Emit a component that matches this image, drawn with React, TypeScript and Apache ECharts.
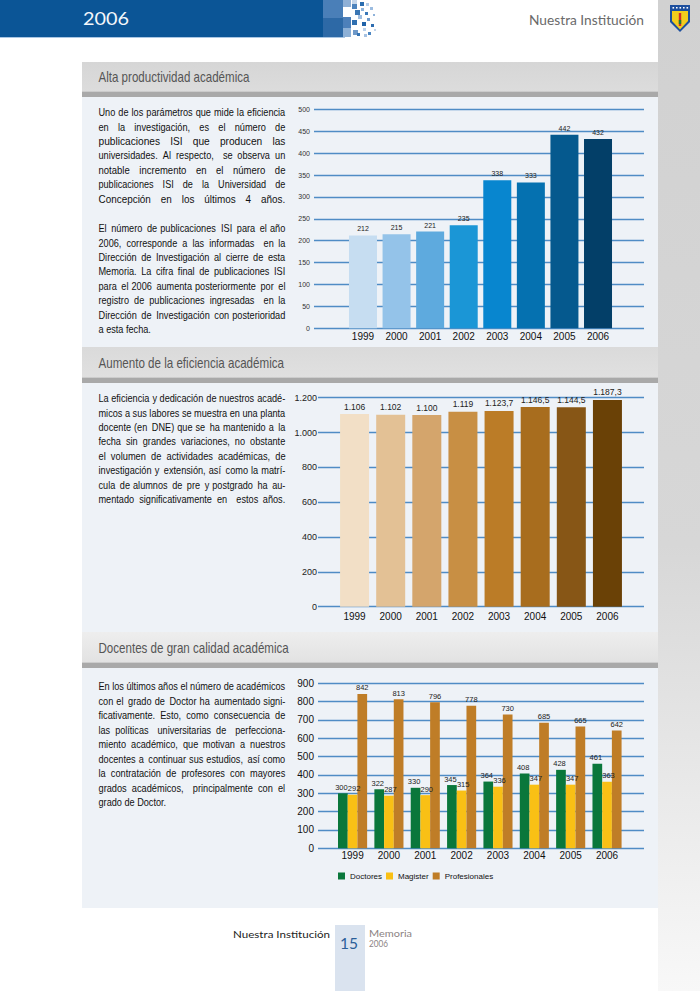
import React, { useEffect, useRef } from "react";
import * as echarts from "echarts";

// ---------- data ----------
const years = ["1999", "2000", "2001", "2002", "2003", "2004", "2005", "2006"];
const isiPublications = [212, 215, 221, 235, 338, 333, 442, 432];
const plantaDocente = [1106, 1102, 1100, 1119, 1123.7, 1146.5, 1144.5, 1187.3];
const doctores = [300, 322, 330, 345, 364, 408, 428, 461];
const magister = [292, 287, 290, 315, 336, 347, 347, 363];
const profesionales = [842, 813, 796, 778, 730, 685, 665, 642];
const seriesNames = ["Doctores", "Magister", "Profesionales"];

// ---------- palettes ----------
const bluePalette = ["#c6ddf1", "#94c3e9", "#5eaade", "#1b96d6", "#0886cf", "#0571b0", "#05598e", "#033f68"];
const brownPalette = ["#f2dfc6", "#e3c195", "#d4a56c", "#c88f44", "#bb7c27", "#a86d1e", "#875616", "#6a4106"];
const gradeColors = ["#0a773b", "#f9c015", "#bf7d27"];

// ---------- texts ----------
const headings = ["Alta productividad académica", "Aumento de la eficiencia académica", "Docentes de gran calidad académica"];
const para1a = [
  "Uno de los parámetros que mide la eficiencia",
  "en la investigación, es el número de",
  "publicaciones ISI que producen las",
  "universidades. Al respecto, se observa un",
  "notable incremento en el número de",
  "publicaciones ISI de la Universidad de",
  "Concepción en los últimos 4 años.",
];
const para1b = [
  "El número de publicaciones ISI para el año",
  "2006, corresponde a las informadas en la",
  "Dirección de Investigación al cierre de esta",
  "Memoria. La cifra final de publicaciones ISI",
  "para el 2006 aumenta posteriormente por el",
  "registro de publicaciones ingresadas en la",
  "Dirección de Investigación con posterioridad",
  "a esta fecha.",
];
const para2 = [
  "La eficiencia y dedicación de nuestros acadé-",
  "micos a sus labores se muestra en una planta",
  "docente (en DNE) que se ha mantenido a la",
  "fecha sin grandes variaciones, no obstante",
  "el volumen de actividades académicas, de",
  "investigación y extensión, así como la matrí-",
  "cula de alumnos de pre y postgrado ha au-",
  "mentado significativamente en estos años.",
];
const para3 = [
  "En los últimos años el número de académicos",
  "con el grado de Doctor ha aumentado signi-",
  "ficativamente. Esto, como consecuencia de",
  "las políticas universitarias de perfecciona-",
  "miento académico, que motivan a nuestros",
  "docentes a continuar sus estudios, así como",
  "la contratación de profesores con mayores",
  "grados académicos, principalmente con el",
  "grado de Doctor.",
];

function fmtEs(v: number): string {
  const parts = String(v).split(".");
  const int = parts[0].replace(/\B(?=(\d{3})+(?!\d))/g, ".");
  return parts[1] ? int + "," + parts[1] : int;
}

let measureCtx: CanvasRenderingContext2D | null = null;
function measure(text: string, font: string): number {
  if (!measureCtx) measureCtx = document.createElement("canvas").getContext("2d");
  if (!measureCtx) return text.length * 6;
  measureCtx.font = font;
  return measureCtx.measureText(text).width;
}

const SANS = '"Liberation Sans", Arial, sans-serif';
const HUMAN = 'Lato, "Open Sans", sans-serif';
const PARA_SIZE = 11.8;
const PARA_FONT = `normal ${PARA_SIZE}px ${SANS}`;
const COL_W = 187;

function textEl(text: string, x: number, y: number, scale: number, size: number, family: string, fill: string, align = "left", weight = "normal") {
  const font = `${weight} ${size}px ${family}`;
  return {
    type: "text",
    x,
    y,
    scaleX: scale,
    silent: true,
    style: {
      text, font, fontSize: size, fontFamily: family, fontWeight: weight, fill,
      align, textAlign: align, verticalAlign: "middle", textVerticalAlign: "middle",
    },
  };
}

function fitText(text: string, x: number, y: number, target: number, size: number, family: string, fill: string, align = "left", weight = "normal") {
  const w = measure(text, `${weight} ${size}px ${family}`);
  return textEl(text, x, y, w > 0 ? target / w : 1, size, family, fill, align, weight);
}

const SPACE_CHARS = [" ", "\u2006", "\u2009", "\u2005", "\u2004", "\u2002", "\u2007", "\u2003"];

function justify(text: string, s0: number) {
  const words = text.split(" ");
  const n = words.length - 1;
  if (n <= 0) return { text, scale: COL_W / measure(text, PARA_FONT) };
  const wordsW = words.reduce((a, w) => a + measure(w, PARA_FONT), 0);
  const needed = (COL_W / s0 - wordsW) / n;
  const cands = SPACE_CHARS.map((c) => ({ c, w: measure(c, PARA_FONT) }));
  let cum = 0;
  let out = words[0];
  for (let i = 1; i <= n; i++) {
    const goal = needed * i;
    let best = cands[0];
    let bestErr = Infinity;
    cands.forEach((cd) => {
      const err = Math.abs(cum + cd.w - goal);
      if (err < bestErr) { bestErr = err; best = cd; }
    });
    cum += best.w;
    out += best.c + words[i];
  }
  return { text: out, scale: COL_W / measure(out, PARA_FONT) };
}

type Para = { lines: string[]; y0: number; step: number; lastShort: boolean };

function buildParagraphs(paras: Para[]) {
  let s0 = Infinity;
  paras.forEach((p) => p.lines.forEach((t, i) => {
    const isShort = p.lastShort && i === p.lines.length - 1;
    if (!isShort) s0 = Math.min(s0, COL_W / measure(t, PARA_FONT));
  }));
  const els: any[] = [];
  paras.forEach((p) => p.lines.forEach((t, i) => {
    const y = p.y0 + i * p.step;
    const isShort = p.lastShort && i === p.lines.length - 1;
    if (isShort) {
      els.push(textEl(t, 98.5, y, s0, PARA_SIZE, SANS, "#111"));
    } else {
      const j = justify(t, s0);
      els.push(textEl(j.text, 98.5, y, j.scale, PARA_SIZE, SANS, "#111"));
    }
  }));
  return els;
}

function buildGraphics() {
  const g: any[] = [];
  // right column
  g.push({
    type: "rect", shape: { x: 658, y: 0, width: 42, height: 991 }, silent: true,
    style: { fill: new echarts.graphic.LinearGradient(0, 0, 0, 1, [
      { offset: 0, color: "#d1d1d1" }, { offset: 0.55, color: "#d7d7d7" }, { offset: 1, color: "#f8f8f8" }]) },
  });
  // header band
  g.push({ type: "rect", shape: { x: 0, y: 0, width: 323, height: 37 }, style: { fill: "#0b5596" }, silent: true });
  g.push({ type: "line", shape: { x1: 0, y1: 37.5, x2: 345, y2: 37.5 }, style: { stroke: "#a9c6e3", lineWidth: 1 }, silent: true });
  const pattern: [number, number, number, number, string][] = [
    [323, 0, 20, 18, "#4a7fb8"], [323, 18, 20, 19, "#2d69a6"],
    [343, 0, 8, 7, "#8fb0d6"], [343, 17, 8, 11, "#4d80ba"], [343, 28, 8, 9, "#8db0d6"],
    [352, 0, 5, 4, "#c5d6ea"], [352, 4, 5, 5, "#4e84bd"], [355, 10, 5, 5, "#3a76b4"],
    [352, 20, 5, 5, "#2f6fb0"], [353, 30, 5, 5, "#6f99c8"], [358, 15, 4, 4, "#9fbde0"],
    [360, 2, 4, 4, "#2a6db0"], [361, 8, 3, 3, "#8fb4db"], [362, 22, 4, 4, "#1f62a8"],
    [363, 28, 3, 3, "#b9d0ea"], [365, 12, 3, 3, "#3a78b8"], [366, 3, 3, 3, "#b5cde8"],
    [367, 18, 3, 3, "#6e9acb"], [368, 32, 3, 3, "#4c86c2"], [370, 7, 3, 3, "#9cbce0"],
    [371, 24, 3, 3, "#2e6db0"], [373, 14, 2, 2, "#8eb2da"], [374, 29, 2, 2, "#c0d4eb"],
    [357, 33, 3, 3, "#3775b4"], [364, 34, 3, 3, "#a6c2e2"],
  ];
  pattern.forEach(([x, y, w, h, c]) => g.push({ type: "rect", shape: { x, y, width: w, height: h }, style: { fill: c }, silent: true }));
  g.push(fitText("2006", 83, 19, 46, 16.5, HUMAN, "#f4f7fb"));
  g.push(fitText("Nuestra Institución", 644, 20, 115, 13.5, HUMAN, "#6a6a6a", "right"));
  // logo
  g.push({ type: "polygon", shape: { points: [[670, 5], [690, 5], [690, 22], [680, 32], [670, 22]] }, style: { fill: "#1d4f9e" }, silent: true });
  g.push({ type: "polygon", shape: { points: [[672, 11], [688, 11], [688, 21], [680, 29.5], [672, 21]] }, style: { fill: "#f4cd1e" }, silent: true });
  [672.5, 676, 679.5, 683, 686.5].forEach((x) => g.push({ type: "rect", shape: { x, y: 7, width: 1.6, height: 1.6 }, style: { fill: "#ffffff" }, silent: true }));
  g.push({ type: "rect", shape: { x: 678.8, y: 13, width: 2.4, height: 13 }, style: { fill: "#d22b2b" }, silent: true });
  g.push({ type: "rect", shape: { x: 678.8, y: 20, width: 2.4, height: 4 }, style: { fill: "#1f7a3a" }, silent: true });

  // sections
  const sections = [
    { band: 62, panelTop: 97, panelBottom: 347, bandColors: ["#d6d6d6", "#dcdcdc"] },
    { band: 347, panelTop: 383, panelBottom: 632, bandColors: ["#dadada", "#e0e0e0"] },
    { band: 632, panelTop: 668, panelBottom: 908, bandColors: ["#eeeeee", "#e2e2e2"] },
  ];
  const headingWidths = [151, 185.5, 190.5];
  sections.forEach((s, i) => {
    const darkTop = s.panelTop - 5.5;
    g.push({
      type: "rect", shape: { x: 82, y: s.band, width: 576, height: darkTop - s.band }, silent: true,
      style: { fill: new echarts.graphic.LinearGradient(0, 0, 0, 1, [{ offset: 0, color: s.bandColors[0] }, { offset: 1, color: s.bandColors[1] }]) },
    });
    g.push({ type: "rect", shape: { x: 82, y: darkTop, width: 576, height: 5.5 }, style: { fill: "#a9a9a9" }, silent: true });
    g.push({ type: "rect", shape: { x: 82, y: s.panelTop, width: 576, height: s.panelBottom - s.panelTop }, style: { fill: "#eef2f7" }, silent: true });
    g.push(fitText(headings[i], 98.5, s.band + (darkTop - s.band) / 2 + 0.5, headingWidths[i], 14, SANS, "#555555"));
  });

  g.push(...buildParagraphs([
    { lines: para1a, y0: 111.7, step: 14.43, lastShort: false },
    { lines: para1b, y0: 227.7, step: 14.43, lastShort: true },
    { lines: para2, y0: 397.7, step: 14.43, lastShort: false },
    { lines: para3, y0: 686, step: 14.45, lastShort: true },
  ]));

  // footer
  g.push({ type: "rect", shape: { x: 335, y: 925, width: 30, height: 66 }, style: { fill: "#dae3ef" }, silent: true });
  g.push(fitText("Nuestra Institución", 330, 934, 97, 9.5, HUMAN, "#222222", "right"));
  g.push(fitText("15", 340, 942, 18, 16, HUMAN, "#2a5e99"));
  g.push(fitText("Memoria", 369, 933, 43, 9.5, HUMAN, "#8c8484"));
  g.push(fitText("2006", 369, 943, 19, 9.5, HUMAN, "#8c8484"));
  return g;
}

const gridLine = { lineStyle: { color: "#4f8cc5", width: 1.3 } };
const frame = { show: true, borderColor: "#8fbade", borderWidth: 1, outerBoundsMode: "none", containLabel: false };
const plain = { outerBoundsMode: "none", containLabel: false };

function buildOption() {
  const hiddenCat = (gridIndex: number) => ({ gridIndex, type: "category", data: years, show: false });
  const labelCat = (gridIndex: number, margin: number) => ({
    gridIndex, type: "category", data: years,
    axisLine: { show: false }, axisTick: { show: false },
    axisLabel: { fontSize: 10, color: "#111", margin, fontFamily: SANS },
  });
  const hiddenVal = (gridIndex: number, max: number) => ({ gridIndex, type: "value", min: 0, max, show: false, splitLine: { show: false } });
  const gradeOffsets = [[-1.5, 0], [1.5, 0], [0, 0]];
  return {
    animation: false,
    backgroundColor: "#ffffff",
    textStyle: { fontFamily: SANS },
    graphic: { elements: buildGraphics() },
    grid: [
      { ...frame, left: 314, top: 109.3, width: 330, height: 219 },
      { ...plain, left: 346.2, top: 109.3, width: 268.6, height: 219 },
      { ...frame, left: 318, top: 397.7, width: 326, height: 209 },
      { ...plain, left: 336.5, top: 397.7, width: 289, height: 209 },
      { ...frame, left: 318, top: 683.3, width: 326, height: 165 },
      { ...plain, left: 334.4, top: 683.3, width: 290.8, height: 165 },
    ],
    xAxis: [hiddenCat(0), labelCat(1, 3), hiddenCat(2), labelCat(3, 5), hiddenCat(4), labelCat(5, 2)],
    yAxis: [
      { gridIndex: 0, type: "value", min: 0, max: 500, interval: 50, axisLine: { show: false }, axisTick: { show: false }, splitLine: gridLine, axisLabel: { fontSize: 7, color: "#333", margin: 4 } },
      hiddenVal(1, 500),
      { gridIndex: 2, type: "value", min: 0, max: 1200, interval: 200, axisLine: { show: false }, axisTick: { show: false }, splitLine: gridLine, axisLabel: { fontSize: 9, color: "#222", margin: 1, formatter: (v: number) => fmtEs(v) } },
      hiddenVal(3, 1200),
      { gridIndex: 4, type: "value", min: 0, max: 900, interval: 100, axisLine: { show: false }, axisTick: { show: false }, splitLine: gridLine, axisLabel: { fontSize: 10, color: "#111", margin: 4 } },
      hiddenVal(5, 900),
    ],
    legend: {
      data: seriesNames, left: 338, top: 872, itemWidth: 7, itemHeight: 7, itemGap: 4, icon: "rect",
      padding: 0, selectedMode: false, textStyle: { fontSize: 8, color: "#111" },
    },
    series: [
      {
        name: "Publicaciones ISI", type: "bar", xAxisIndex: 1, yAxisIndex: 1, barWidth: 28,
        data: isiPublications.map((v, i) => ({ value: v, itemStyle: { color: bluePalette[i] } })),
        label: { show: true, position: "top", distance: 3, fontSize: 7, color: "#222" },
      },
      {
        name: "Planta docente", type: "bar", xAxisIndex: 3, yAxisIndex: 3, barWidth: 29,
        data: plantaDocente.map((v, i) => ({ value: v, itemStyle: { color: brownPalette[i] } })),
        label: { show: true, position: "top", distance: 3, fontSize: 8.5, color: "#222", formatter: (p: any) => fmtEs(p.value) },
      },
      ...[doctores, magister, profesionales].map((arr, k) => ({
        name: seriesNames[k], type: "bar", xAxisIndex: 5, yAxisIndex: 5, barWidth: 9.7, barGap: "0%",
        itemStyle: { color: gradeColors[k] },
        data: arr,
        label: { show: true, position: "top", distance: 2, fontSize: 7.5, color: "#222", offset: gradeOffsets[k] },
      })),
    ],
  };
}

export default function App() {
  const ref = useRef<HTMLDivElement>(null);
  useEffect(() => {
    if (!ref.current) return;
    const chart = echarts.init(ref.current, undefined, { renderer: "svg" });
    chart.setOption(buildOption() as any);
    return () => chart.dispose();
  }, []);
  return <div ref={ref} style={{ position: "absolute", left: 0, top: 0, width: 700, height: 991 }} />;
}
